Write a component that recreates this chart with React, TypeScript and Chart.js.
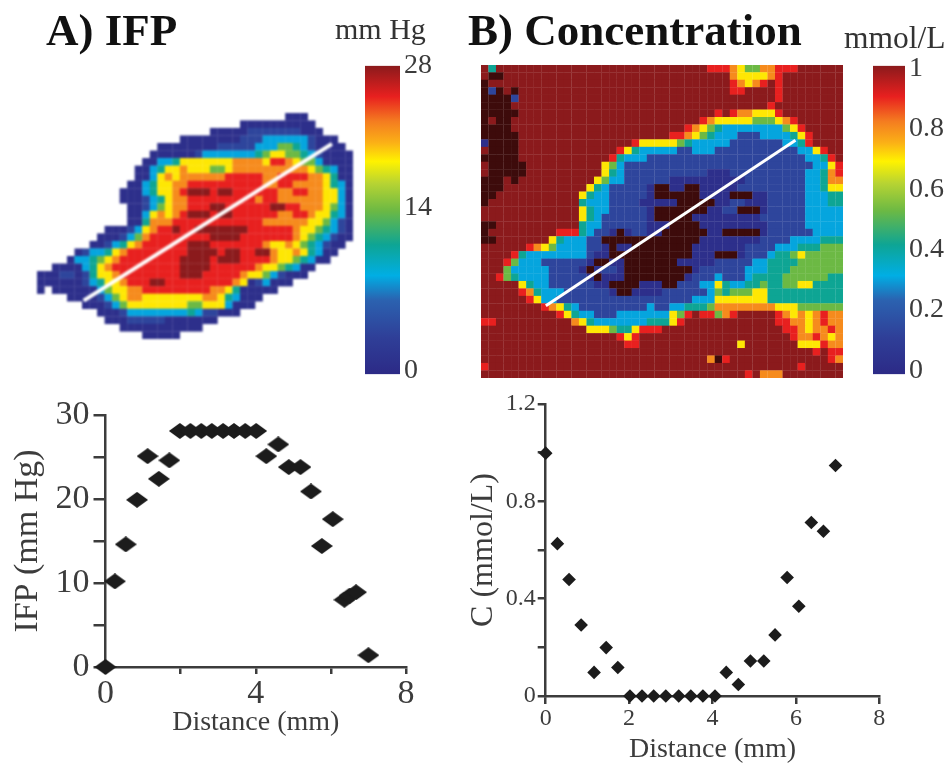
import React, { useEffect, useRef } from "react";
import { Chart, registerables } from "chart.js";

Chart.register(...registerables);

const SERIF = "'Liberation Serif', serif";
const INK = "#3c3c3c";

// Line profiles (mm, value)
const ifpDistance = [0, 0.25, 0.54, 0.84, 1.12, 1.42, 1.7, 1.98, 2.26, 2.55, 2.83, 3.13, 3.42, 3.72, 4.01, 4.28, 4.6, 4.88, 5.19, 5.47, 5.76, 6.05, 6.36, 6.5, 6.67, 7.0];
const ifpValues = [0, 10.2, 14.6, 19.9, 25.1, 22.4, 24.6, 28.1, 28.1, 28.1, 28.1, 28.1, 28.1, 28.1, 28.1, 25.1, 26.5, 23.8, 23.8, 20.9, 14.4, 17.6, 8.0, 8.5, 8.9, 1.4];
const concDistance = [0, 0.28, 0.56, 0.85, 1.16, 1.45, 1.73, 2.02, 2.31, 2.59, 2.88, 3.19, 3.48, 3.77, 4.06, 4.33, 4.62, 4.91, 5.23, 5.5, 5.79, 6.07, 6.37, 6.66, 6.95];
const concValues = [0.998, 0.626, 0.479, 0.292, 0.097, 0.199, 0.117, 0, 0, 0, 0, 0, 0, 0, 0, 0.097, 0.047, 0.144, 0.144, 0.251, 0.487, 0.369, 0.713, 0.677, 0.947];

// Colour bars: tick place on the scale, and the label printed there
const ifpBarTicks = [0, 15, 28];
const ifpBarLabels = ["0", "14", "28"];
const concBarTicks = [0, 0.2, 0.4, 0.6, 0.8, 1];
const concBarLabels = ["0", "0.2", "0.4", "0.6", "0.8", "1"];

// Sample level of each map letter (0..1 of the colour bar); j lies below the bar
const levelValues: Record<string, number> = { a: 0.03, b: 0.14, c: 0.31, d: 0.42, e: 0.53, f: 0.7, g: 0.8, h: 0.9, i: 1, j: -0.1 };

// Maps, run-length coded by row: letter + count, "." = no sample
const ifpMapRows = [
  ".33a3", ".27a10", ".23a5b7a3", ".19a8b3c6ba3", ".16a8b5c3e2dcba4", ".15a6bc3c3cdef2e2dcba4",
  ".14a2c2df7g4fh2gfe2ca4", ".13a2cdf2gf3e2fg10fedca2", ".13a2cfgfg6h5g2h4g2fda2", ".12a2cdf2g2h10g2h2g3gfdca",
  ".11a3cdf2ghi3hi2h6g2h2g2f2ca", ".11a3bcdfg2h9gh2g4g2f2ca", ".12a2bcefg2h3i2h6i2h2g2gfeca", ".12a2cfgfghi3hi2h6g2h2gf2dca",
  ".12a2dg3h12g5gf2ecba", ".9a3bcfgh2ih2i7h6gf2edcba", ".8a3bcegh8i4h7gfedcba2", ".7a2bcdfgh6i3h7gf2gfedcba2",
  ".5abc2dfgh8i4hi2h2i2gf2gfdca2", ".4ac2defgh8i4hi3h4gf2edca2", ".2a4cdfgh9i4h6gf2edca2", "a3b2abdf2gh8i3h5gf2ecba3",
  "a6bcdf2gh3i2h9gfabca3", "a.a6cef2g2h9g2fda5", ".4a4bcefg2f8g2fdca3", ".6a3bcef8e2f3ca3", ".8a3bc8dcb2a3",
  ".9a3b5a7", ".11a11", ".14a5",
];
const concMapRows = [
  "idi28h3gfe2g2h3", "ij2i30gf4gh", "ji32hgfghih", "jbjiji28h2i4h", "j4bi34h", "j4i34h", "j5i26hihg2f3h",
  "jij2i25hgf5e3fgh", "j4i23hgfedc8efh", "j5i20h2gfedc3b3c4dfh", "aj4i15hf5edc5b7c2dh", "ij4i13hfdc5b2c3b11c2fh",
  "j5i12hdc3b21c2dh", "ij5i10fecb25c2fh", "ij5i10fdcb11a3b10c2dgh", "j3iji10fec2b6a10b8c2dg2",
  "j3i11fdcb5aj2a2j2a5b9c2df2", "j2i11fdc2b5aj6a4j3a2b5c3d2", "ji12dc3b4a5j5a2b2a3b5c3d2", "i13fdc2b5aj7a2b2j3ab5c5",
  "i13fdcb6aj5a9b6c5", "j2i11dc2b6a3j4a9b5c5", "ji9h3dcb2ajab2a2j6a2j5ab6c4", "j2i7fdc3b2j13a8b4c4d3",
  "i6hgfec4b2aja2j8a7b4c3d3e3", "i4hdc8ba2j11a3j3ab3cd2efe5", "i3hec3b6aj2a2j7a5b5c2d4e6", "i3ec5b4ajab2aj9ab6c3d3e7",
  "i2hedc4b5aja3j8ab3cb3cd4e6d2", "i5fdc2b6a2j4a3j2b3c2fdc2d2ed2e2f2d4", "i5hgdc3b6aj2a4b6cede3f2d10", "i6hfc2b18c3f7d10",
  "i8hgfdcb9cb2c2d3eg8f3e6", "i10hfdc2b3c7fehih2eghi5hgfgfghg2", "h2i10gfdc7d3fhi12h2g2fghg2", "i14f3ed2fh3i16h2gfg2hg",
  "i18hfhi20hg2hgfg", "i19h2i13fi7f3hg2", "i44hih2", "i30gjhi13hg", "hi41h", "i35hig3",
];

// White sampling lines, in map cells
const ifpLineX = [6.2, 39.2];
const ifpLineY = [24.9, 4.1];
const concLineX = [8.6, 41.7];
const concLineY = [32.3, 10.1];

const barStops: [number, string][] = [
  [0, "#2c2a86"], [0.12, "#2f3f98"], [0.24, "#2b62b0"], [0.32, "#00aee4"], [0.42, "#0ea594"], [0.53, "#6cb944"],
  [0.62, "#b8d432"], [0.69, "#fff200"], [0.75, "#fbb116"], [0.82, "#f47c20"], [0.9, "#e8201f"], [1, "#8b1a1c"],
];

function hexRgb(h: string) {
  return [1, 3, 5].map((i) => parseInt(h.slice(i, i + 2), 16));
}
function colourOf(v: number) {
  if (v < 0) return "#3d0b0b";
  for (let i = 1; i < barStops.length; i++) {
    if (v <= barStops[i][0]) {
      const [v0, c0] = barStops[i - 1];
      const [v1, c1] = barStops[i];
      const t = (v - v0) / (v1 - v0);
      const a = hexRgb(c0);
      const b = hexRgb(c1);
      return `rgb(${a.map((x, k) => Math.round(x + (b[k] - x) * t)).join(",")})`;
    }
  }
  return barStops[barStops.length - 1][1];
}

function heatConfig(rows: string[], cols: number, lineX: number[], lineY: number[], radius: number, lineWidth: number) {
  const points: { x: number; y: number }[] = [];
  const colours: string[] = [];
  rows.forEach((row, r) => {
    let c = 0;
    for (const m of row.matchAll(/([a-j.])(\d*)/g)) {
      const n = m[2] ? parseInt(m[2], 10) : 1;
      for (let k = 0; k < n; k++, c++) {
        if (m[1] === ".") continue;
        points.push({ x: c + 0.5, y: r + 0.5 });
        colours.push(colourOf(levelValues[m[1]]));
      }
    }
    if (cols > 42) {
      for (; c < cols; c++) {
        points.push({ x: c + 0.5, y: r + 0.5 });
        colours.push(colourOf(levelValues.i));
      }
    }
  });
  return {
    type: "scatter",
    data: {
      datasets: [
        {
          data: lineX.map((x, i) => ({ x, y: lineY[i] })),
          showLine: true,
          borderColor: "#ffffff",
          borderWidth: lineWidth,
          pointRadius: 0,
          order: 0,
        },
        {
          data: points,
          pointStyle: "rect",
          pointRadius: radius,
          backgroundColor: colours,
          borderWidth: 0,
          order: 1,
        },
      ],
    },
    options: {
      responsive: false,
      animation: false,
      events: [],
      devicePixelRatio: 1,
      layout: { padding: 0, autoPadding: false },
      plugins: { legend: { display: false }, tooltip: { enabled: false } },
      scales: {
        x: { type: "linear", display: false, min: 0, max: cols },
        y: { type: "linear", display: false, min: 0, max: rows.length, reverse: true },
      },
    },
  };
}

function barConfig(
  lo: number, hi: number, ticks: number[], labels: string[],
  padTop: number, padBottom: number, labelWidth: number,
) {
  return {
    type: "bar",
    data: {
      labels: [""],
      datasets: [
        {
          data: [[lo, hi]],
          barPercentage: 1,
          categoryPercentage: 1,
          backgroundColor: (ctx: any) => {
            const area = ctx.chart.chartArea;
            if (!area || !isFinite(area.top) || !isFinite(area.bottom)) return "#888888";
            const g = ctx.chart.ctx.createLinearGradient(0, area.bottom, 0, area.top);
            barStops.forEach(([s, c]) => g.addColorStop(s, c));
            return g;
          },
        },
      ],
    },
    options: {
      responsive: false,
      animation: false,
      events: [],
      devicePixelRatio: 1,
      layout: { padding: { top: padTop, bottom: padBottom, left: 0, right: 0 } },
      plugins: { legend: { display: false }, tooltip: { enabled: false } },
      scales: {
        x: { display: false },
        y: {
          position: "right",
          min: lo,
          max: hi,
          grid: { display: false, drawTicks: false },
          border: { display: false },
          afterBuildTicks: (s: any) => {
            s.ticks = ticks.map((value) => ({ value }));
          },
          afterFit: (s: any) => {
            s.width = labelWidth;
          },
          ticks: {
            padding: 4,
            autoSkip: false,
            color: INK,
            font: { family: SERIF, size: 28 },
            callback: (v: number) => labels[ticks.indexOf(v)] ?? "",
          },
        },
      },
    },
  };
}

function diamond(w: number, h: number) {
  const c = document.createElement("canvas");
  c.width = w;
  c.height = h;
  const g = c.getContext("2d")!;
  g.fillStyle = "#1c1c1c";
  g.beginPath();
  g.moveTo(0, h / 2);
  g.lineTo(w / 2, 0);
  g.lineTo(w, h / 2);
  g.lineTo(w / 2, h);
  g.closePath();
  g.fill();
  return c;
}

function scatterConfig(o: {
  xs: number[]; ys: number[]; point: any; xStep: number; xLabelEvery: number; yMax: number; yStep: number;
  yLabels: number[]; yTitle: string; left: number; bottom: number; padTop: number; padRight: number;
  tickSize: number; titleSize: number; yTitleSize: number; yTitlePad: number; xTitlePad: number; lw: number;
  xTick: number; yTick: number; yLabelPad: number;
}) {
  const axisBase = { color: INK, lineWidth: o.lw, drawOnChartArea: false, drawTicks: true };
  return {
    type: "scatter",
    data: {
      datasets: [
        {
          data: o.xs.map((x, i) => ({ x, y: o.ys[i] })),
          pointStyle: o.point,
          pointRadius: typeof o.point === "string" ? 6.8 : 10,
          backgroundColor: "#1c1c1c",
          borderWidth: 0,
          clip: false,
        },
      ],
    },
    options: {
      responsive: false,
      animation: false,
      events: [],
      devicePixelRatio: 1,
      layout: { padding: { top: o.padTop, right: o.padRight, left: 0, bottom: 0 } },
      plugins: { legend: { display: false }, tooltip: { enabled: false } },
      scales: {
        x: {
          type: "linear",
          min: 0,
          max: 8,
          grid: { ...axisBase, tickLength: o.xTick },
          border: { color: INK, width: o.lw },
          afterFit: (s: any) => {
            s.height = o.bottom;
          },
          ticks: {
            stepSize: o.xStep,
            autoSkip: false,
            maxRotation: 0,
            padding: 0,
            color: INK,
            font: { family: SERIF, size: o.tickSize },
            callback: (v: number) => (v % o.xLabelEvery === 0 ? String(v) : ""),
          },
          title: {
            display: true,
            text: "Distance (mm)",
            color: INK,
            font: { family: SERIF, size: o.titleSize },
            padding: { top: 0, bottom: o.xTitlePad },
          },
        },
        y: {
          type: "linear",
          min: 0,
          max: o.yMax,
          grid: { ...axisBase, tickLength: o.yTick },
          border: { color: INK, width: o.lw },
          afterFit: (s: any) => {
            s.width = o.left;
          },
          afterBuildTicks: (s: any) => {
            const t = [];
            for (let i = 0; i * o.yStep <= o.yMax + 1e-6; i++) t.push({ value: +(i * o.yStep).toFixed(4) });
            s.ticks = t;
          },
          ticks: {
            autoSkip: false,
            padding: o.yLabelPad,
            color: INK,
            font: { family: SERIF, size: o.tickSize },
            callback: (v: number) => (o.yLabels.includes(v) ? String(v) : ""),
          },
          title: {
            display: true,
            text: o.yTitle,
            color: INK,
            font: { family: SERIF, size: o.yTitleSize },
            padding: { top: o.yTitlePad, bottom: 0 },
          },
        },
      },
    },
  };
}

function Plot({ left, top, width, height, blur, make }: any) {
  const ref = useRef<HTMLCanvasElement>(null);
  useEffect(() => {
    const chart = new Chart(ref.current!, make());
    return () => chart.destroy();
  }, []);
  return (
    <canvas
      ref={ref}
      width={width}
      height={height}
      style={{ position: "absolute", left, top, width, height, filter: `blur(${blur}px)` }}
    />
  );
}

function Label({ left, top, size, bold, children }: any) {
  return (
    <div
      style={{
        position: "absolute", left, top, fontFamily: SERIF, fontSize: size, fontWeight: bold ? 700 : 400,
        color: bold ? "#111" : "#333", lineHeight: 1, whiteSpace: "nowrap", filter: "blur(0.4px)",
      }}
    >
      {children}
    </div>
  );
}

export default function App() {
  return (
    <div style={{ position: "absolute", left: 0, top: 0, width: 952, height: 765, background: "#fff", overflow: "hidden" }}>
      <Label left={46} top={8} size={45} bold>A) IFP</Label>
      <Label left={468} top={8} size={45} bold>B) Concentration</Label>
      <Label left={335} top={14} size={30}>mm Hg</Label>
      <Label left={844} top={22} size={31.5}>mmol/L</Label>

      <Plot left={37} top={113} width={316} height={226} blur={1.1}
        make={() => heatConfig(ifpMapRows, 42, ifpLineX, ifpLineY, 5.5, 4)} />
      <Plot left={481} top={65} width={362} height={313} blur={0.7}
        make={() => heatConfig(concMapRows, 48, concLineX, concLineY, 5.5, 3)} />

      <Plot left={365} top={45} width={75} height={350} blur={0.5}
        make={() => barConfig(-0.33, 28, ifpBarTicks, ifpBarLabels, 17, 18, 40)} />
      <Plot left={873} top={45} width={79} height={350} blur={0.5}
        make={() => barConfig(-0.013, 1.01, concBarTicks, concBarLabels, 20, 18, 47)} />

      <Plot left={0} top={380} width={430} height={365} blur={0.5}
        make={() => scatterConfig({
          xs: ifpDistance, ys: ifpValues, point: diamond(22, 16), xStep: 2, xLabelEvery: 4, yMax: 30, yStep: 5,
          yLabels: [0, 10, 20, 30], yTitle: "IFP (mm Hg)", left: 105.5, bottom: 78, padTop: 35, padRight: 24,
          tickSize: 34, titleSize: 28, yTitleSize: 34, yTitlePad: 7.5, xTitlePad: 6, lw: 2.5,
          xTick: 7, yTick: 12, yLabelPad: 4,
        })} />
      <Plot left={460} top={385} width={430} height={381} blur={0.5}
        make={() => scatterConfig({
          xs: concDistance, ys: concValues, point: "rectRot", xStep: 2, xLabelEvery: 2, yMax: 1.2, yStep: 0.2,
          yLabels: [0, 0.4, 0.8, 1.2], yTitle: "C (mmol/L)", left: 85.7, bottom: 70, padTop: 19, padRight: 10.7,
          tickSize: 24, titleSize: 28, yTitleSize: 32, yTitlePad: 4, xTitlePad: 0, lw: 2.5,
          xTick: 8, yTick: 8, yLabelPad: 2,
        })} />
    </div>
  );
}
